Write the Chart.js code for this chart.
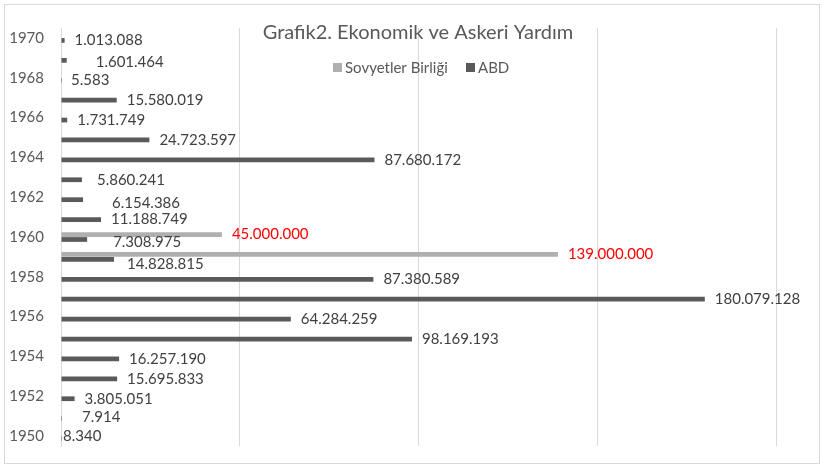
<!DOCTYPE html>
<html>
<head>
<meta charset="utf-8">
<script src="https://cdn.jsdelivr.net/npm/chart.js@4/dist/chart.umd.min.js"></script>
<style>
  html, body { margin: 0; padding: 0; background: #fff; }
  #wrap { width: 823px; height: 466px; }
</style>
</head>
<body>
<div id="wrap"><canvas id="chart" width="823" height="466"></canvas></div>
<script>
var years = [1950, 1951, 1952, 1953, 1954, 1955, 1956, 1957, 1958, 1959, 1960,
  1961, 1962, 1963, 1964, 1965, 1966, 1967, 1968, 1969, 1970];

var sovyet = [null, null, null, null, null, null, null, null, null, 139000000, 45000000,
  null, null, null, null, null, null, null, null, null, null];

var abd = [8340, 7914, 3805051, 15695833, 16257190, 98169193, 64284259, 180079128,
  87380589, 14828815, 7308975, 11188749, 6154386, 5860241, 87680172, 24723597,
  1731749, 15580019, 5583, 1601464, 1013088];

var seriesNames = ["Sovyetler Birliği", "ABD"];
var xTicks = [0, 50000000, 100000000, 150000000, 200000000];

// labels that were dragged around by hand in the original (dx, dy in px)
var labelNudge = {
  "1:1951": [11, -1],
  "1:1950": [-8, -2],
  "1:1959": [3, 5],
  "1:1960": [16, 3],
  "1:1962": [19, 3],
  "1:1963": [5, 0],
  "1:1969": [19, 2]
};

var FONT = "Lato, 'Open Sans', sans-serif";

function fmt(v) {
  return String(v).replace(/\B(?=(\d{3})+(?!\d))/g, ".");
}

var overlay = {
  id: "overlay",
  beforeDraw(chart) {
    var c = chart.ctx;
    c.save();
    c.fillStyle = "#ffffff";
    c.fillRect(0, 0, chart.width, chart.height);
    c.strokeStyle = "#d9d9d9";
    c.lineWidth = 1;
    c.strokeRect(4.5, 4.5, 815, 459);
    c.restore();
  },
  afterDatasetsDraw(chart) {
    var c = chart.ctx;
    c.save();
    c.font = "15px " + FONT;
    c.textBaseline = "middle";
    c.textAlign = "left";
    chart.data.datasets.forEach(function (ds, di) {
      var meta = chart.getDatasetMeta(di);
      meta.data.forEach(function (bar, i) {
        var v = ds.data[i];
        if (v === null || v === undefined) return;
        var n = labelNudge[di + ":" + years[i]] || [0, 0];
        c.fillStyle = di === 0 ? "#ff0000" : "#404040";
        c.fillText(fmt(v), bar.x + 10 + n[0], bar.y + n[1]);
      });
    });

    // title
    c.fillStyle = "#595959";
    c.textAlign = "center";
    c.font = "20px " + FONT;
    c.fillText("Grafik2. Ekonomik ve Askeri Yardım", 418, 33);

    // legend
    c.font = "15px " + FONT;
    c.textAlign = "left";
    var colors = ["#afafaf", "#5a5a5a"];
    var xs = [333, 466];
    for (var k = 0; k < seriesNames.length; k++) {
      c.fillStyle = colors[k];
      c.fillRect(xs[k], 63, 9, 9);
      c.fillStyle = "#595959";
      c.fillText(seriesNames[k], xs[k] + 12, 68);
    }
    c.restore();
  }
};

new Chart(document.getElementById("chart"), {
  type: "bar",
  data: {
    labels: years.map(String),
    datasets: [
      {
        label: seriesNames[0],
        data: sovyet,
        backgroundColor: "#afafaf",
        inflateAmount: 0,
        categoryPercentage: 0.5,
        barPercentage: 0.95
      },
      {
        label: seriesNames[1],
        data: abd,
        backgroundColor: "#5a5a5a",
        inflateAmount: 0,
        categoryPercentage: 0.5,
        barPercentage: 0.95
      }
    ]
  },
  options: {
    indexAxis: "y",
    responsive: false,
    animation: false,
    events: [],
    layout: { padding: { left: 0, right: 47, top: 28, bottom: 20 } },
    plugins: {
      legend: { display: false },
      title: { display: false },
      tooltip: { enabled: false }
    },
    scales: {
      x: {
        min: 0,
        max: 200000000,
        afterBuildTicks: function (scale) {
          scale.ticks = xTicks.map(function (v) { return { value: v }; });
        },
        ticks: { display: false },
        grid: { color: "#d9d9d9", drawTicks: false },
        border: { display: false },
        afterFit: function (scale) {
          scale.height = 0;
          scale.paddingLeft = 0;
          scale.paddingRight = 0;
        }
      },
      y: {
        reverse: true,
        grid: { display: false, drawTicks: false },
        border: { display: true, color: "#d9d9d9" },
        ticks: {
          autoSkip: false,
          padding: 17,
          color: "#595959",
          font: { family: FONT, size: 15 },
          callback: function (val, i) {
            return i % 2 === 0 ? this.getLabelForValue(val) : "";
          }
        },
        afterFit: function (scale) {
          scale.width = 61;
          scale.paddingTop = 0;
          scale.paddingBottom = 0;
        }
      }
    }
  },
  plugins: [overlay]
});
</script>
</body>
</html>
